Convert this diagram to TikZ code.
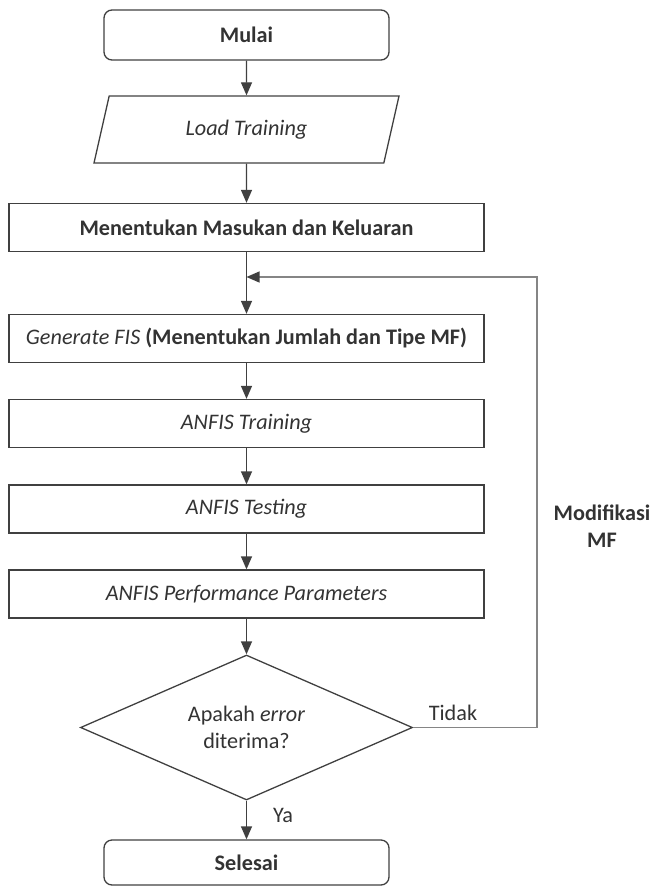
\documentclass[tikz,border=0pt]{standalone}
\usepackage{fontspec}
\setmainfont{Carlito}
\usepackage{tikz}
\usetikzlibrary{shapes,positioning,arrows.meta}
\definecolor{lineGray}{HTML}{404040}
\definecolor{textGray}{HTML}{333333}
\definecolor{loopGray}{HTML}{858585}
\newcommand{\flowFont}{\fontsize{22.2}{27}\selectfont}
\tikzset{
  termBox/.style={rectangle,rounded corners=8pt,draw=lineGray,line width=1.3pt,
    minimum width=285pt,minimum height=50pt,inner sep=0pt,
    text=textGray,font=\flowFont\bfseries},
  ioBox/.style={trapezium,trapezium left angle=51.7,trapezium right angle=128.3,
    trapezium stretches body,draw=lineGray,line width=1.3pt,
    minimum width=305pt,minimum height=67pt,inner sep=0pt,
    text=textGray,font=\flowFont\itshape},
  procBox/.style={rectangle,draw=lineGray,line width=1.3pt,
    minimum width=475pt,minimum height=48pt,inner sep=0pt,
    text=textGray,font=\flowFont},
  decBox/.style={diamond,aspect=2.3,draw=lineGray,line width=1.3pt,
    minimum width=332pt,minimum height=145pt,inner sep=0pt,align=center,
    text=textGray,font=\flowFont},
  flowArrow/.style={draw=lineGray,line width=1.3pt,
    -{Triangle[length=13pt,width=11pt]}},
  loopLine/.style={draw=loopGray,line width=1.3pt,
    -{Triangle[length=13pt,width=11pt,color=lineGray]}},
  flowLabel/.style={text=textGray,font=\flowFont,inner sep=0pt}
}

\begin{document}
\begin{tikzpicture}[x=1pt,y=-1pt]
  \useasboundingbox (0,0) rectangle (650,886);
  % main column
  \node[termBox] (mulai) at (246.5,35) {Mulai};
  \node[ioBox] (loadTrain) at (246.5,129.5) {Load Training};
  \node[procBox,font=\flowFont\bfseries] (inOut) at (246.5,227.5)
    {Menentukan Masukan dan Keluaran};
  \node[procBox] (genFis) at (246.5,338.5)
    {\textit{Generate FIS} \textbf{(Menentukan Jumlah dan Tipe MF)}};
  \node[procBox,font=\flowFont\itshape] (anfisTrain) at (246.5,423.5) {ANFIS Training};
  \node[procBox,font=\flowFont\itshape] (anfisTest) at (246.5,509) {ANFIS Testing};
  \node[procBox,font=\flowFont\itshape] (anfisPerf) at (246.5,594)
    {ANFIS Performance Parameters};
  \node[decBox] (errOk) at (246.5,727.5) {Apakah \textit{error}\\diterima?};
  \node[termBox,minimum height=45pt] (selesai) at (246.5,862.5) {Selesai};
  % loop back
  \coordinate (loopIn) at (246.5,277);
  \coordinate (loopTurn) at (537,277);
  \draw[flowArrow] (mulai) -- (loadTrain);
  \draw[flowArrow] (loadTrain) -- (inOut);
  \draw[flowArrow] (inOut) -- (genFis);
  \draw[flowArrow] (genFis) -- (anfisTrain);
  \draw[flowArrow] (anfisTrain) -- (anfisTest);
  \draw[flowArrow] (anfisTest) -- (anfisPerf);
  \draw[flowArrow] (anfisPerf) -- (errOk);
  \draw[flowArrow] (errOk) -- (selesai);
  \draw[loopLine] (errOk.east) -| (loopTurn) -- (loopIn);
  % labels
  \node[flowLabel] (tidak) at (453,713) {Tidak};
  \node[flowLabel] (ya) at (283,815) {Ya};
  \node[flowLabel,font=\flowFont\bfseries,align=center] (modMf) at (602,526)
    {Modifikasi\\MF};
\end{tikzpicture}
\end{document}
